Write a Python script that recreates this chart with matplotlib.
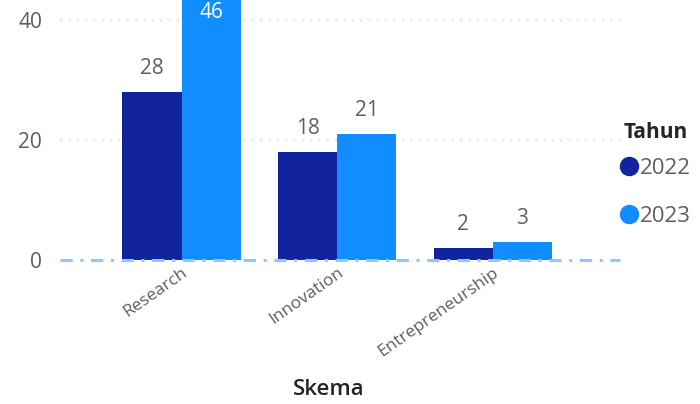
import matplotlib.pyplot as plt
from matplotlib.lines import Line2D
import numpy as np

plt.rcParams['font.family'] = ['Open Sans', 'DejaVu Sans']

# data
skema = ['Research', 'Innovation', 'Entrepreneurship']
tahun = ['2022', '2023']
v2022 = [28, 18, 2]
v2023 = [46, 21, 3]
colors = ['#12239E', '#118DFF']
grey = '#605E5C'

fig = plt.figure(figsize=(7, 4.04), dpi=100)
ax = fig.add_axes([0.086, 0.356, 0.8, 0.644])

x = np.arange(len(skema))
w = 0.38
ymax = 43.3
for vals, off, c, lab in [(v2022, -w/2, colors[0], tahun[0]), (v2023, w/2, colors[1], tahun[1])]:
    bars = ax.bar(x + off, vals, w, color=c, label=lab, zorder=3)
    for b, v in zip(bars, vals):
        cx = b.get_x() + b.get_width()/2
        if v > ymax - 4:
            # value above the axis top: label inside the bar
            ax.text(cx, ymax - 0.3, str(v), ha='center', va='top', color='white', fontsize=15, zorder=4)
        else:
            ax.text(cx, v + 2.2, str(v), ha='center', va='bottom', color=grey, fontsize=15, zorder=4)

ax.set_xlim(-0.78, 2.82)
ax.set_ylim(0, ymax)
ax.set_yticks([0, 20, 40])
ax.tick_params(axis='y', length=0, labelsize=15, labelcolor=grey, pad=13)
ax.set_xticks(x)
ax.set_xticklabels(skema, rotation=35, ha='right', rotation_mode='anchor', fontsize=12.5, color=grey)
ax.tick_params(axis='x', length=0, pad=3)

for yv in [20, 40]:
    ax.axhline(yv, color='#C8C8C8', linestyle=(0, (1, 5)), linewidth=1, zorder=1)
ax.axhline(0, color='#8CC8FF', linestyle=(0, (4, 2.5, 1, 2.5)), linewidth=2.2, zorder=5, clip_on=False)

for s in ax.spines.values():
    s.set_visible(False)

ax.set_xlabel('Skema', fontsize=16, fontweight='semibold', color='#252423', labelpad=0)
ax.xaxis.set_label_coords(0.48, -0.455)

# legend with circles
handles = [Line2D([], [], marker='o', linestyle='', markersize=13, color=c) for c in colors]
leg = ax.legend(handles, tahun, title='Tahun', loc='center left', bbox_to_anchor=(0.97, 0.33), frameon=False,
                handlelength=0.5, handletextpad=0.25, labelspacing=1.2, fontsize=16,
                title_fontproperties={'weight': 'bold', 'size': 15})
plt.setp(leg.get_texts(), color=grey)
leg.get_title().set_color('#252423')
leg._legend_box.align = 'left'
leg._legend_box.sep = 11

fig.savefig('out.png', dpi=100)
